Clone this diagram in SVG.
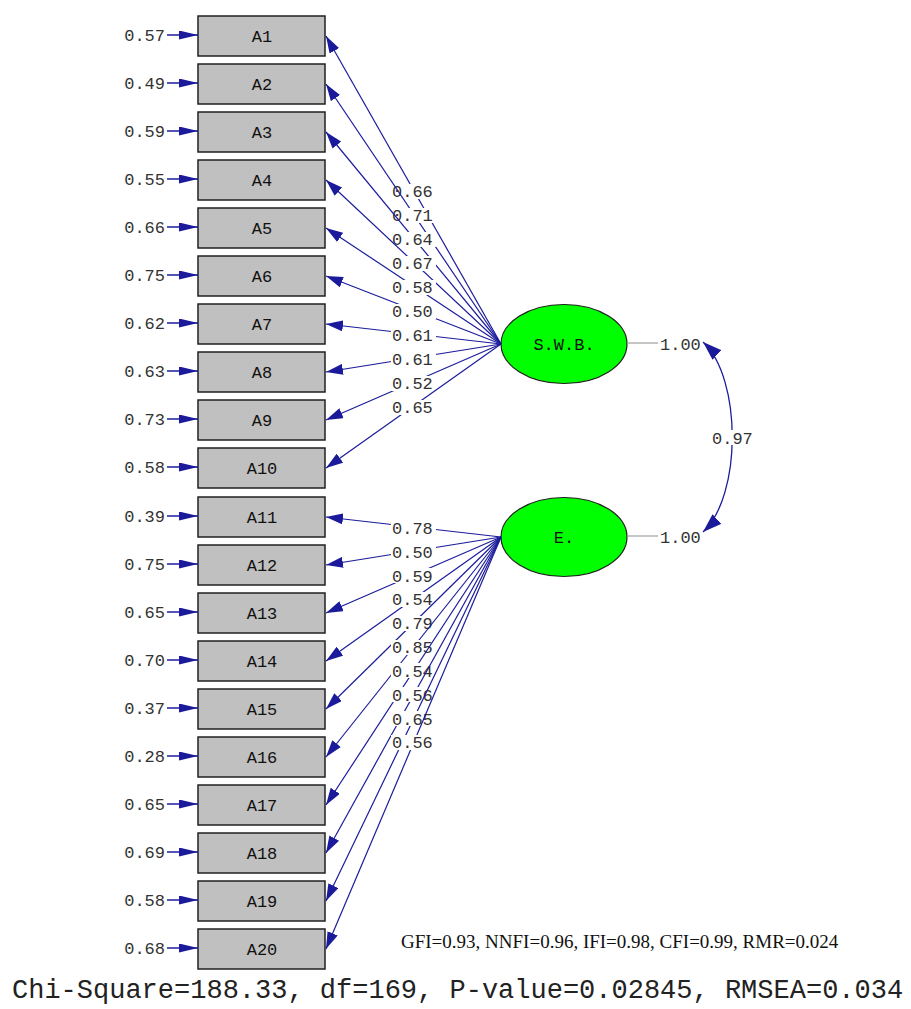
<svg xmlns="http://www.w3.org/2000/svg" width="911" height="1009" viewBox="0 0 911 1009">
<style>
.box{fill:#c0c0c0;stroke:#202020;stroke-width:1.5}
.lv{fill:#00ff00;stroke:#202020;stroke-width:1.2}
.t{font-family:"Liberation Mono","DejaVu Sans Mono",monospace;font-size:17px;fill:#333}
.tc{font-family:"Liberation Mono","DejaVu Sans Mono",monospace;font-size:17px;fill:#111;text-anchor:middle}
.e{text-anchor:end}
.ln{stroke:#1c1c9c;stroke-width:1.2;fill:none;marker-end:url(#ah)}
.er{stroke:#1c1c9c;stroke-width:1.5;fill:none;marker-end:url(#ea)}
.bg{fill:#fff}
.gr{stroke:#a0a0a0;stroke-width:1.2}
</style>
<defs>
<marker id="ah" markerUnits="userSpaceOnUse" markerWidth="18" markerHeight="11" refX="17" refY="5.5" orient="auto"><path d="M0,0 L17,5.5 L0,11 z" fill="#1a1a9a"/></marker>
<marker id="ea" markerUnits="userSpaceOnUse" markerWidth="20" markerHeight="9" refX="19" refY="4.5" orient="auto"><path d="M0,0 L19,4.5 L0,9 z" fill="#1a1a9a"/></marker>
<marker id="ca" markerUnits="userSpaceOnUse" markerWidth="20" markerHeight="13" refX="19" refY="6.5" orient="auto-start-reverse"><path d="M0,0 L19,6.5 L0,13 z" fill="#1a1a9a"/></marker>
</defs>

<g id="nodes">
<g id="A1"><rect class="box" x="198" y="16" width="127" height="40"/><text class="tc" x="262" y="42">A1</text></g>
<g id="A2"><rect class="box" x="198" y="64" width="127" height="40"/><text class="tc" x="262" y="90">A2</text></g>
<g id="A3"><rect class="box" x="198" y="112" width="127" height="40"/><text class="tc" x="262" y="138">A3</text></g>
<g id="A4"><rect class="box" x="198" y="160" width="127" height="40"/><text class="tc" x="262" y="186">A4</text></g>
<g id="A5"><rect class="box" x="198" y="208" width="127" height="40"/><text class="tc" x="262" y="234">A5</text></g>
<g id="A6"><rect class="box" x="198" y="256" width="127" height="40"/><text class="tc" x="262" y="282">A6</text></g>
<g id="A7"><rect class="box" x="198" y="304" width="127" height="40"/><text class="tc" x="262" y="330">A7</text></g>
<g id="A8"><rect class="box" x="198" y="352" width="127" height="40"/><text class="tc" x="262" y="378">A8</text></g>
<g id="A9"><rect class="box" x="198" y="400" width="127" height="40"/><text class="tc" x="262" y="426">A9</text></g>
<g id="A10"><rect class="box" x="198" y="448" width="127" height="40"/><text class="tc" x="262" y="474">A10</text></g>
<g id="A11"><rect class="box" x="198" y="497" width="127" height="40"/><text class="tc" x="262" y="523">A11</text></g>
<g id="A12"><rect class="box" x="198" y="545" width="127" height="40"/><text class="tc" x="262" y="571">A12</text></g>
<g id="A13"><rect class="box" x="198" y="593" width="127" height="40"/><text class="tc" x="262" y="619">A13</text></g>
<g id="A14"><rect class="box" x="198" y="641" width="127" height="40"/><text class="tc" x="262" y="667">A14</text></g>
<g id="A15"><rect class="box" x="198" y="689" width="127" height="40"/><text class="tc" x="262" y="715">A15</text></g>
<g id="A16"><rect class="box" x="198" y="737" width="127" height="40"/><text class="tc" x="262" y="763">A16</text></g>
<g id="A17"><rect class="box" x="198" y="785" width="127" height="40"/><text class="tc" x="262" y="811">A17</text></g>
<g id="A18"><rect class="box" x="198" y="833" width="127" height="40"/><text class="tc" x="262" y="859">A18</text></g>
<g id="A19"><rect class="box" x="198" y="881" width="127" height="40"/><text class="tc" x="262" y="907">A19</text></g>
<g id="A20"><rect class="box" x="198" y="929" width="127" height="40"/><text class="tc" x="262" y="955">A20</text></g>
<g id="SWB"><ellipse class="lv" cx="564" cy="344" rx="63" ry="39.5"/><text class="tc" x="564" y="350">S.W.B.</text></g>
<g id="E"><ellipse class="lv" cx="564" cy="537" rx="63" ry="39.5"/><text class="tc" x="564" y="543">E.</text></g>
</g>

<g id="connectors">
<g id="errors">
<line class="er" x1="167" y1="35" x2="198" y2="35"/><text class="t e" x="165" y="41">0.57</text>
<line class="er" x1="167" y1="83" x2="198" y2="83"/><text class="t e" x="165" y="89">0.49</text>
<line class="er" x1="167" y1="131" x2="198" y2="131"/><text class="t e" x="165" y="137">0.59</text>
<line class="er" x1="167" y1="179" x2="198" y2="179"/><text class="t e" x="165" y="185">0.55</text>
<line class="er" x1="167" y1="227" x2="198" y2="227"/><text class="t e" x="165" y="233">0.66</text>
<line class="er" x1="167" y1="275" x2="198" y2="275"/><text class="t e" x="165" y="281">0.75</text>
<line class="er" x1="167" y1="323" x2="198" y2="323"/><text class="t e" x="165" y="329">0.62</text>
<line class="er" x1="167" y1="371" x2="198" y2="371"/><text class="t e" x="165" y="377">0.63</text>
<line class="er" x1="167" y1="419" x2="198" y2="419"/><text class="t e" x="165" y="425">0.73</text>
<line class="er" x1="167" y1="467" x2="198" y2="467"/><text class="t e" x="165" y="473">0.58</text>
<line class="er" x1="167" y1="516" x2="198" y2="516"/><text class="t e" x="165" y="522">0.39</text>
<line class="er" x1="167" y1="564" x2="198" y2="564"/><text class="t e" x="165" y="570">0.75</text>
<line class="er" x1="167" y1="612" x2="198" y2="612"/><text class="t e" x="165" y="618">0.65</text>
<line class="er" x1="167" y1="660" x2="198" y2="660"/><text class="t e" x="165" y="666">0.70</text>
<line class="er" x1="167" y1="708" x2="198" y2="708"/><text class="t e" x="165" y="714">0.37</text>
<line class="er" x1="167" y1="756" x2="198" y2="756"/><text class="t e" x="165" y="762">0.28</text>
<line class="er" x1="167" y1="804" x2="198" y2="804"/><text class="t e" x="165" y="810">0.65</text>
<line class="er" x1="167" y1="852" x2="198" y2="852"/><text class="t e" x="165" y="858">0.69</text>
<line class="er" x1="167" y1="900" x2="198" y2="900"/><text class="t e" x="165" y="906">0.58</text>
<line class="er" x1="167" y1="948" x2="198" y2="948"/><text class="t e" x="165" y="954">0.68</text>
</g>
<g id="loadings-swb">
<line class="ln" x1="501" y1="344" x2="326" y2="36"/><rect class="bg" x="391" y="184" width="45" height="15"/><text class="t" x="392" y="197">0.66</text>
<line class="ln" x1="501" y1="344" x2="326" y2="84"/><rect class="bg" x="391" y="208" width="45" height="15"/><text class="t" x="392" y="221">0.71</text>
<line class="ln" x1="501" y1="344" x2="326" y2="132"/><rect class="bg" x="391" y="232" width="45" height="15"/><text class="t" x="392" y="245">0.64</text>
<line class="ln" x1="501" y1="344" x2="326" y2="180"/><rect class="bg" x="391" y="256" width="45" height="15"/><text class="t" x="392" y="269">0.67</text>
<line class="ln" x1="501" y1="344" x2="326" y2="228"/><rect class="bg" x="391" y="280" width="45" height="15"/><text class="t" x="392" y="293">0.58</text>
<line class="ln" x1="501" y1="344" x2="326" y2="276"/><rect class="bg" x="391" y="304" width="45" height="15"/><text class="t" x="392" y="317">0.50</text>
<line class="ln" x1="501" y1="344" x2="326" y2="324"/><rect class="bg" x="391" y="328" width="45" height="15"/><text class="t" x="392" y="341">0.61</text>
<line class="ln" x1="501" y1="344" x2="326" y2="372"/><rect class="bg" x="391" y="352" width="45" height="15"/><text class="t" x="392" y="365">0.61</text>
<line class="ln" x1="501" y1="344" x2="326" y2="420"/><rect class="bg" x="391" y="376" width="45" height="15"/><text class="t" x="392" y="389">0.52</text>
<line class="ln" x1="501" y1="344" x2="326" y2="468"/><rect class="bg" x="391" y="400" width="45" height="15"/><text class="t" x="392" y="413">0.65</text>
</g>
<g id="loadings-e">
<line class="ln" x1="501" y1="537" x2="326" y2="517"/><rect class="bg" x="391" y="520" width="45" height="15"/><text class="t" x="392" y="534">0.78</text>
<line class="ln" x1="501" y1="537" x2="326" y2="565"/><rect class="bg" x="391" y="544" width="45" height="15"/><text class="t" x="392" y="558">0.50</text>
<line class="ln" x1="501" y1="537" x2="326" y2="613"/><rect class="bg" x="391" y="568" width="45" height="15"/><text class="t" x="392" y="582">0.59</text>
<line class="ln" x1="501" y1="537" x2="326" y2="661"/><rect class="bg" x="391" y="592" width="45" height="15"/><text class="t" x="392" y="605">0.54</text>
<line class="ln" x1="501" y1="537" x2="326" y2="709"/><rect class="bg" x="391" y="616" width="45" height="15"/><text class="t" x="392" y="629">0.79</text>
<line class="ln" x1="501" y1="537" x2="326" y2="757"/><rect class="bg" x="391" y="640" width="45" height="15"/><text class="t" x="392" y="653">0.85</text>
<line class="ln" x1="501" y1="537" x2="326" y2="805"/><rect class="bg" x="391" y="663" width="45" height="15"/><text class="t" x="392" y="677">0.54</text>
<line class="ln" x1="501" y1="537" x2="326" y2="853"/><rect class="bg" x="391" y="687" width="45" height="15"/><text class="t" x="392" y="701">0.56</text>
<line class="ln" x1="501" y1="537" x2="326" y2="901"/><rect class="bg" x="391" y="711" width="45" height="15"/><text class="t" x="392" y="725">0.65</text>
<line class="ln" x1="501" y1="537" x2="326" y2="949"/><rect class="bg" x="391" y="735" width="45" height="15"/><text class="t" x="392" y="748">0.56</text>
</g>
<g id="variances">
<line class="gr" x1="627" y1="343" x2="658" y2="343"/><text class="t" x="660" y="350">1.00</text>
<line class="gr" x1="627" y1="536" x2="658" y2="536"/><text class="t" x="660" y="543">1.00</text>
</g>
<g id="covariance">
<path d="M 703 342 C 742 378, 742 496, 703 532" stroke="#1c1c9c" stroke-width="1.3" fill="none" marker-start="url(#ca)" marker-end="url(#ca)"/>
<rect class="bg" x="711" y="430" width="45" height="15"/><text class="t" x="712" y="444">0.97</text>
</g>
</g>

<text x="401" y="948" font-family="Liberation Serif,serif" font-size="19" fill="#111">GFI=0.93, NNFI=0.96, IFI=0.98, CFI=0.99, RMR=0.024</text>
<text x="12" y="998" font-family="Liberation Mono,monospace" font-size="27" fill="#222">Chi-Square=188.33, df=169, P-value=0.02845, RMSEA=0.034</text>
</svg>
